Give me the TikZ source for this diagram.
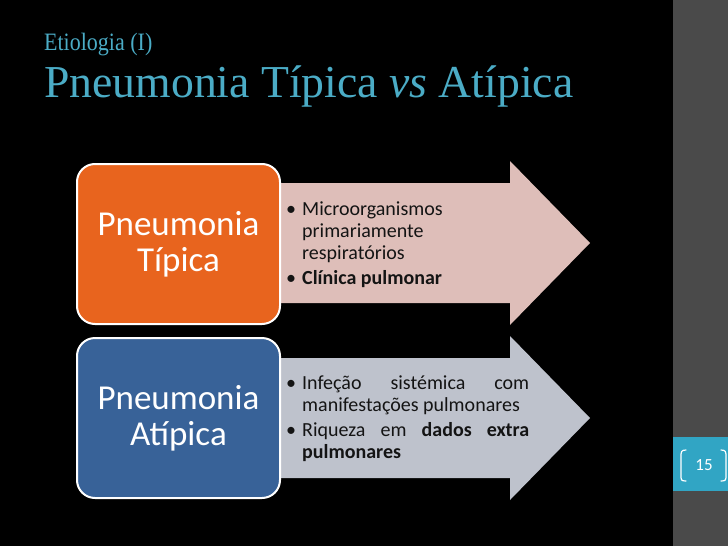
\documentclass[tikz,border=0pt]{standalone}
\usepackage{fontspec}
\setmainfont{Carlito}
\newfontfamily\titlefont{Liberation Serif}
\definecolor{titleblue}{RGB}{75,172,198}
\definecolor{stripgray}{RGB}{74,74,74}
\definecolor{pagenum}{RGB}{49,165,196}
\definecolor{boxorange}{RGB}{232,100,30}
\definecolor{boxblue}{RGB}{56,98,152}
\definecolor{arrowpink}{RGB}{222,190,185}
\definecolor{arrowgray}{RGB}{190,194,204}
\definecolor{textdark}{RGB}{20,20,20}
\newcommand{\bulitem}{\par\hangindent=16pt\hangafter=1\noindent\hbox to 16pt{\textbullet\hfill}}
\tikzset{
  labelbox/.style={rounded corners=18pt, draw=white, line width=2pt, minimum width=203pt,
    minimum height=160pt, align=center, text=white, inner sep=0pt,
    font=\fontsize{35}{36}\selectfont},
  bullettext/.style={anchor=west, text width=243pt, inner sep=0pt, text=textdark,
    font=\fontsize{20}{22}\selectfont},
  bracket/.style={draw=white, line width=1.2pt, line cap=round}
}
\begin{document}
\begin{tikzpicture}[x=1pt,y=-1pt]
\fill[black] (0,0) rectangle (728,546);
\useasboundingbox (0,0) rectangle (728,546);
\fill[stripgray] (673,0) rectangle (728,546);
\fill[pagenum] (673,437) rectangle (728,491);
% titles
\node[anchor=base west, inner sep=0pt, text=titleblue, xscale=0.88,
  font=\titlefont\fontsize{25}{30}\selectfont] (sub) at (44,50) {Etiologia (I)};
\node[anchor=base west, inner sep=0pt, text=titleblue,
  font=\titlefont\fontsize{45.7}{50}\selectfont] (title) at (44,97) {Pneumonia Típica \textit{vs} Atípica};
% arrows
\fill[arrowpink] (270,183) -- (510,183) -- (510,161) -- (590,243) -- (510,325) -- (510,303) -- (270,303) -- cycle;
\fill[arrowgray] (270,358) -- (510,358) -- (510,336) -- (590,418) -- (510,500) -- (510,478) -- (270,478) -- cycle;
% boxes
\node[labelbox, fill=boxorange] (tipica) at (178.5,244) {Pneumonia\\Típica};
\node[labelbox, fill=boxblue] (atipica) at (178.5,418) {Pneumonia\\Atípica};
% bullet texts
\node[bullettext, align=flush left] (t1) at (286,241) {\hyphenpenalty=10000
  \bulitem Microorganismos primariamente respiratórios
  \par\vspace{3pt}\bulitem\textbf{Clínica pulmonar}\par};
\node[bullettext, align=justify] (t2) at (286,415) {\hyphenpenalty=10000
  \bulitem Infeção sistémica com\linebreak manifestações pulmonares
  \par\vspace{3pt}\bulitem Riqueza em \textbf{dados extra}\linebreak \textbf{pulmonares}\par};
% page number
\node[text=white, inner sep=0pt, font=\fontsize{17}{20}\selectfont] (pg) at (704,465) {15};
\draw[bracket] (686,450) .. controls (681,450) and (681,452) .. (681,457) -- (681,475) .. controls (681,480) and (681,481) .. (686,481);
\draw[bracket] (721,450) .. controls (726,450) and (726,452) .. (726,457) -- (726,475) .. controls (726,480) and (726,481) .. (721,481);
\end{tikzpicture}
\end{document}
